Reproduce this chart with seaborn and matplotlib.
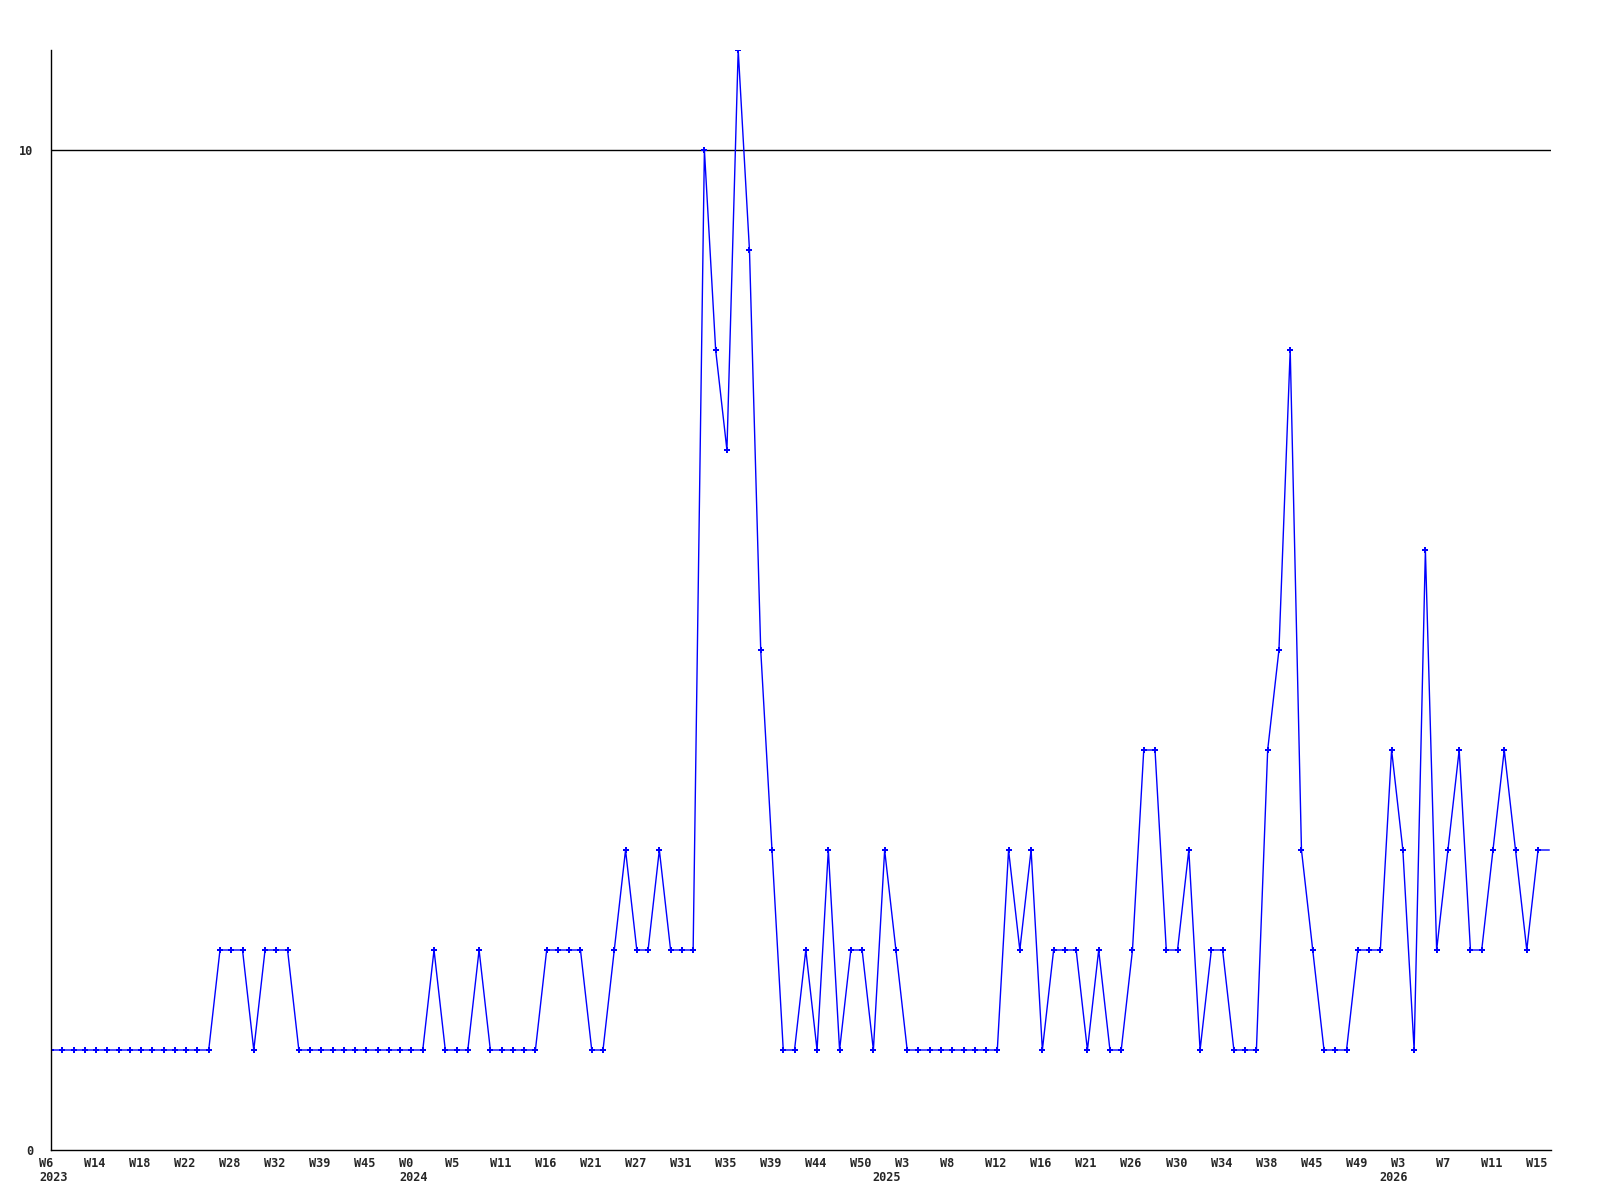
import matplotlib
matplotlib.use('Agg')
import matplotlib.pyplot as plt
import matplotlib.transforms as mtransforms
import pandas as pd
import seaborn as sns

# weekly counts, one per plotted week
counts = [1, 1, 1, 1, 1, 1, 1, 1, 1, 1, 1, 1, 1, 1, 1,
          2, 2, 2, 1, 2, 2, 2,
          1, 1, 1, 1, 1, 1, 1, 1, 1, 1, 1, 1,
          2, 1, 1, 1, 2, 1, 1, 1, 1, 1,
          2, 2, 2, 2, 1, 1,
          2, 3, 2, 2, 3, 2, 2, 2,
          10, 8, 7, 11, 9, 5, 3,
          1, 1, 2, 1, 3, 1, 2, 2, 1, 3, 2,
          1, 1, 1, 1, 1, 1, 1, 1, 1,
          3, 2, 3,
          1, 2, 2, 2, 1, 2, 1, 1, 2, 4, 4, 2, 2, 3, 1, 2, 2, 1, 1, 1,
          4, 5, 8, 3, 2, 1, 1, 1, 2, 2, 2, 4, 3, 1, 6,
          2, 3, 4, 2, 2, 3, 4, 3, 2, 3]

week_labels = ['W6', 'W14', 'W18', 'W22', 'W28', 'W32', 'W39', 'W45',
               'W0', 'W5', 'W11', 'W16', 'W21', 'W27', 'W31', 'W35', 'W39', 'W44', 'W50',
               'W3', 'W8', 'W12', 'W16', 'W21', 'W26', 'W30', 'W34', 'W38', 'W45', 'W49',
               'W3', 'W7', 'W11', 'W15']
label_step = 4

years = ['2023', '2024', '2025', '2026']
year_start = [0, 32, 74, 119]

n = len(counts)
# repeat last value so the line runs on to the right edge
df = pd.DataFrame({'week': list(range(n + 1)), 'count': counts + [counts[-1]]})

sns.set_style('white')
plt.rcParams['font.family'] = ['DejaVu Sans Mono']
plt.rcParams['font.weight'] = 'bold'

fig = plt.figure(figsize=(16, 12), dpi=100)
ax = fig.add_axes([51 / 1600, 50 / 1200, 1500 / 1600, 1100 / 1200])

sns.lineplot(data=df, x='week', y='count', color='#0000ff', linewidth=1,
             marker='P', markersize=4.5, markeredgewidth=0,
             markevery=list(range(n)), ax=ax)

ax.axhline(10, color='black', linewidth=1, zorder=0)

ax.set_xlim(0, n + 0.15)
ax.set_ylim(0, 11)
ax.set_yticks([0, 10])
ax.set_yticklabels(['0', '10'])
ax.set_xticks(list(range(0, n, label_step)))
ax.set_xticklabels(week_labels)
ax.set_xlabel('')
ax.set_ylabel('')
ax.tick_params(axis='both', length=0, labelsize=8.6)
ax.tick_params(axis='x', pad=5)
ax.tick_params(axis='y', pad=13)

# labels start a little left of their point
shift = mtransforms.ScaledTranslation(-12 / 100, 0, fig.dpi_scale_trans)
for lab in ax.get_xticklabels():
    lab.set_horizontalalignment('left')
    lab.set_transform(lab.get_transform() + shift)

ytrans = mtransforms.blended_transform_factory(ax.transData, ax.transAxes)
ytrans = ytrans + mtransforms.ScaledTranslation(-12 / 100, -21 / 100, fig.dpi_scale_trans)
for yr, pos in zip(years, year_start):
    ax.text(pos, 0, yr, transform=ytrans, ha='left', va='top', fontsize=8.6, fontweight='bold')

for side in ['top', 'right']:
    ax.spines[side].set_visible(False)
for side in ['left', 'bottom']:
    ax.spines[side].set_color('black')
    ax.spines[side].set_linewidth(1)

fig.savefig('out.png', dpi=100)
